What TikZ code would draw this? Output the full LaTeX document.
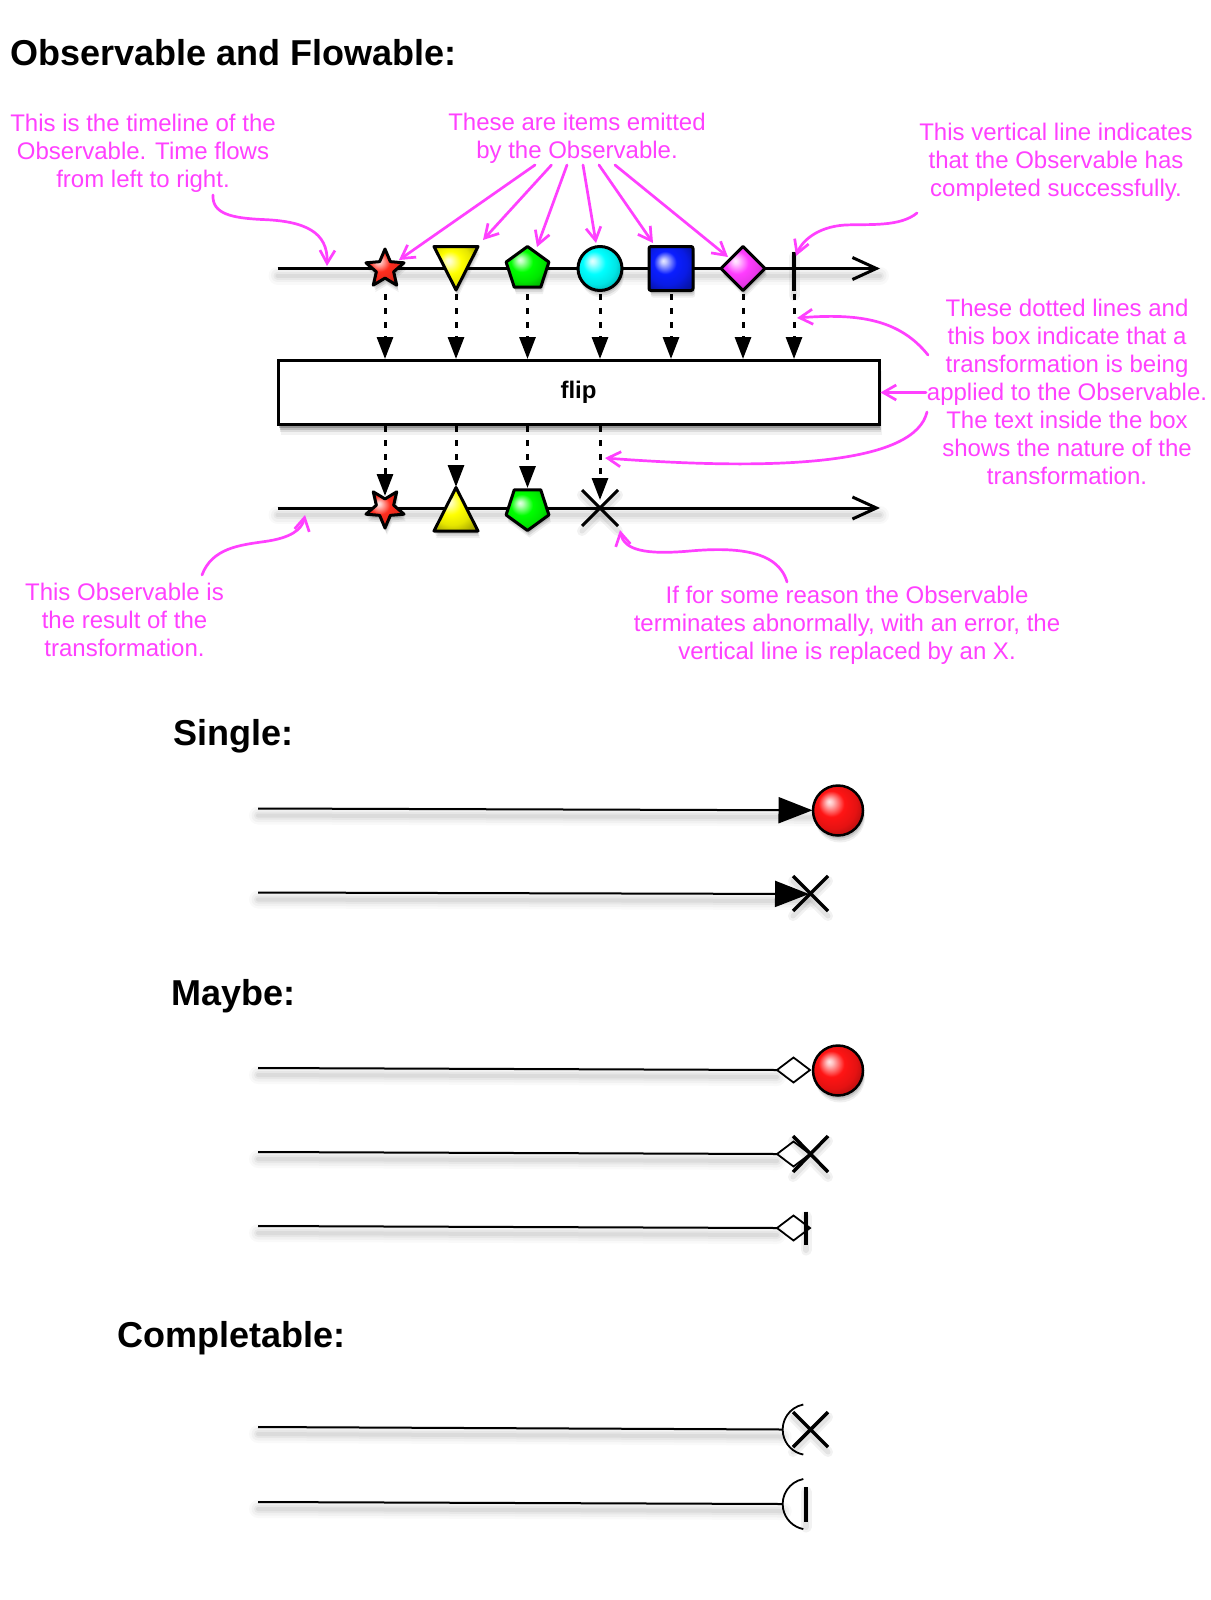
\documentclass[tikz,border=0pt]{standalone}
\usepackage{fontspec}
\setmainfont{Liberation Sans}
\usetikzlibrary{arrows.meta,shapes.geometric,shadows}
\definecolor{mag}{RGB}{255,64,255}
\definecolor{starred}{RGB}{255,45,30}
\definecolor{yel}{RGB}{255,255,0}
\definecolor{grn}{RGB}{0,255,0}
\definecolor{cyn}{RGB}{0,255,255}
\definecolor{blu}{RGB}{10,30,255}
\definecolor{pnk}{RGB}{255,60,255}
\definecolor{ballred}{RGB}{255,20,20}
\colorlet{shapecol}{red}
\pgfdeclareradialshading[shapecol]{glossy}{\pgfpoint{-9bp}{9bp}}{color(0bp)=(shapecol!10!white); color(3bp)=(shapecol!25!white); color(13bp)=(shapecol); color(23bp)=(shapecol!90!black); color(33bp)=(shapecol!65!black); color(50bp)=(shapecol!55!black)}
\begin{document}
\begin{tikzpicture}[x=1pt,y=-1pt,
 softshadow/.style={general shadow={shadow xshift=2pt,shadow yshift=-7pt,opacity=0.06,fill=black},general shadow={shadow xshift=1.5pt,shadow yshift=-5pt,opacity=0.09,fill=black},general shadow={shadow xshift=1pt,shadow yshift=-3pt,opacity=0.12,fill=black}},
 boxshadow/.style={general shadow={shadow xshift=3pt,shadow yshift=-10pt,opacity=0.05,fill=black},general shadow={shadow xshift=2pt,shadow yshift=-7pt,opacity=0.09,fill=black},general shadow={shadow xshift=1.5pt,shadow yshift=-5pt,opacity=0.14,fill=black},general shadow={shadow xshift=1pt,shadow yshift=-3pt,opacity=0.2,fill=black}},
 glossy/.style={/utils/exec={\colorlet{shapecol}{#1}},shade,shading=glossy,draw=black,line width=3pt,line join=round,softshadow},
 item/.style={inner sep=0pt,outer sep=0pt},
 lshadow/.style={
   preaction={draw=black,draw opacity=0.025,line width=18pt,line cap=round,-,transform canvas={yshift=-7pt}},
   preaction={draw=black,draw opacity=0.03,line width=13pt,line cap=round,-,transform canvas={yshift=-7pt}},
   preaction={draw=black,draw opacity=0.04,line width=8pt,line cap=round,-,transform canvas={yshift=-7pt}},
   preaction={draw=black,draw opacity=0.05,line width=4pt,line cap=round,-,transform canvas={yshift=-7pt}}},
 tline/.style={draw=black,line width=3pt,lshadow,-{Straight Barb[length=24pt,width=22pt]}},
 dotarrow/.style={draw=black,line width=3pt,dash pattern=on 6pt off 8pt,-{Triangle[length=22pt,width=16pt]}},
 ann/.style={draw=mag,line width=2.7pt,line cap=round,-{Straight Barb[length=13pt,width=15pt]}},
 note/.style={text=mag,font=\fontsize{24}{28}\selectfont,align=center,anchor=north,inner sep=0pt},
 title/.style={font=\fontsize{36}{42}\selectfont\bfseries,anchor=base west,inner sep=0pt},
 thinline/.style={draw=black,line width=2pt,lshadow},
 xmark/.style={draw=black,line width=3.5pt,preaction={draw=black,draw opacity=0.05,line width=10pt,line cap=round,transform canvas={yshift=-5pt}},preaction={draw=black,draw opacity=0.06,line width=5pt,line cap=round,transform canvas={yshift=-5pt}}},
 barmark/.style={draw=black,line width=4.5pt,preaction={draw=black,draw opacity=0.05,line width=11pt,line cap=round,transform canvas={yshift=-5pt}},preaction={draw=black,draw opacity=0.06,line width=6pt,line cap=round,transform canvas={yshift=-5pt}}},
 dmd/.style={item,diamond,draw=black,fill=white,line width=1.8pt,minimum width=33pt,minimum height=25pt},
 arcmark/.style={draw=black,line width=1.8pt},
]
\useasboundingbox (0,0) rectangle (1210,1600);
\fill[white] (0,0) rectangle (1210,1600);

% ---------- titles
\node[title] (h0) at (10,66) {Observable and Flowable:};
\node[title] (h1) at (173,745.5) {Single:};
\node[title] (h2) at (171,1005.5) {Maybe:};
\node[title] (h3) at (117,1347.5) {Completable:};

% ---------- notes
\node[note] (n1) at (143,114) {This is the timeline of the\\Observable. Time flows\\from left to right.};
\node[note] (n2) at (577,112.5) {These are items emitted\\by the Observable.};
\node[note] (n3) at (1056,122.5) {This vertical line indicates\\that the Observable has\\completed successfully.};
\node[note] (n4) at (1067,299) {These dotted lines and\\this box indicate that a\\transformation is being\\applied to the Observable.\\The text inside the box\\shows the nature of the\\transformation.};
\node[note] (n5) at (124.5,583) {This Observable is\\the result of the\\transformation.};
\node[note] (n6) at (847,586) {If for some reason the Observable\\terminates abnormally, with an error, the\\vertical line is replaced by an X.};

% ---------- top timeline
\coordinate (tl0) at (277.5,268.5);
\coordinate (tl1) at (880,268.5);
\draw[tline] (tl0) -- (tl1);
\node[item,glossy=starred,star,star points=5,star point ratio=2.2,minimum size=40pt] (a1) at (385,269) {};
\path[glossy=yel] (434,246.5) -- (478,246.5) -- (456,290) -- cycle;
\coordinate (a2) at (456,268.5);
\node[item,glossy=grn,regular polygon,regular polygon sides=5,minimum size=45pt] (a3) at (527.5,269) {};
\node[item,glossy=cyn,circle,minimum size=44pt] (a4) at (600,268.5) {};
\node[item,glossy=blu,rectangle,rounded corners=2pt,minimum size=44pt] (a5) at (671,268.5) {};
\node[item,glossy=pnk,diamond,minimum width=44pt,minimum height=44pt] (a6) at (743,268.5) {};
\coordinate (a7) at (794,268.5);
\draw[barmark,line width=3.5pt] (794,251.5) -- (794,290.5);

% ---------- box
\node[draw=black,line width=3pt,fill=white,minimum width=601pt,minimum height=64pt,inner sep=0pt,boxshadow,font=\fontsize{24}{28}\selectfont\bfseries] (box) at (578.5,392.5) {flip};

\foreach \n/\x in {1/385,2/456,3/527.5,4/600,5/671,6/743,7/794}{
  \coordinate (d\n) at (\x,294);
  \draw[dotarrow] (d\n) -- (d\n |- box.north);
}

% ---------- bottom timeline
\coordinate (bl0) at (277.5,508);
\coordinate (bl1) at (880,508);
\draw[tline] (bl0) -- (bl1);
\node[item,glossy=starred,star,star points=5,star point ratio=2.2,minimum size=40pt,shape border rotate=180] (b1) at (385,508) {};
\path[glossy=yel] (434,531) -- (478,531) -- (456,487.5) -- cycle;
\node[item,glossy=grn,regular polygon,regular polygon sides=5,minimum size=45pt,shape border rotate=180] (b3) at (527.5,508) {};
\coordinate (b4) at (600,508);
\draw[xmark,line width=3pt] (582,490) -- (618,526) (582,526) -- (618,490);

\coordinate (e1) at (385,496);
\coordinate (e2) at (456,487);
\coordinate (e3) at (527.5,488);
\coordinate (e4) at (600,500);
\foreach \n in {1,2,3,4}{
  \draw[dotarrow] (e\n |- box.south) -- (e\n);
}

% ---------- annotation arrows
\coordinate (p1) at (213,195);
\coordinate (q1) at (327,266);
\draw[ann] (p1) .. controls (212,214) and (232,218) .. (262,219.5) .. controls (305,221) and (328,232) .. (q1);

\coordinate (f1) at (535,165);   \coordinate (g1) at (399,260);
\coordinate (f2) at (551.5,165); \coordinate (g2) at (483,240);
\coordinate (f3) at (567,165);   \coordinate (g3) at (537,247);
\coordinate (f4) at (583,165);   \coordinate (g4) at (596,243);
\coordinate (f5) at (599,165);   \coordinate (g5) at (653,243);
\coordinate (f6) at (615,165);   \coordinate (g6) at (728,257);
\foreach \n in {1,...,6}{ \draw[ann] (f\n) -- (g\n); }

\coordinate (p3) at (917,213);
\coordinate (q3) at (796,256);
\draw[ann] (p3) .. controls (900,227) and (870,224) .. (845,225) .. controls (815,227) and (801,243) .. (q3);

\coordinate (p4a) at (928,355);
\coordinate (q4a) at (797,318);
\draw[ann] (p4a) .. controls (900,320) and (860,313) .. (q4a);
\coordinate (p4b) at (926,392.5);
\draw[ann] (p4b) -- (box.east);
\coordinate (p4c) at (927,412);
\coordinate (q4c) at (605,458);
\draw[ann] (p4c) .. controls (915,462) and (790,472) .. (q4c);

\coordinate (p5) at (202,575);
\coordinate (q5) at (305,515);
\draw[ann] (p5) .. controls (212,548) and (240,545) .. (265,541.5) .. controls (290,538) and (302,530) .. (q5);

\coordinate (p6) at (787,582);
\coordinate (q6) at (620,530);
\draw[ann] (p6) .. controls (778,550) and (735,547) .. (690,551) .. controls (645,555) and (624,550) .. (q6);

% ---------- Single
\coordinate (s1a) at (258,808.5);
\coordinate (s1b) at (812.5,810.3);
\draw[thinline,-{Triangle[length=34pt,width=26pt]}] (s1a) -- (s1b);
\node[item,glossy=ballred,circle,minimum size=50pt,line width=2.5pt] (s1c) at (838,810.5) {};

\coordinate (s2a) at (258,892.5);
\coordinate (s2b) at (809,894);
\draw[thinline,-{Triangle[length=34pt,width=26pt]}] (s2a) -- (s2b);
\coordinate (s2c) at (810.5,893.5);
\draw[xmark] (793,876) -- (828,911) (793,911) -- (828,876);

% ---------- Maybe
\coordinate (m1a) at (258,1068);
\node[dmd] (m1d) at (793.5,1070) {};
\draw[thinline] (m1a) -- (m1d.west);
\node[item,glossy=ballred,circle,minimum size=50pt,line width=2.5pt] (m1c) at (838,1070.5) {};

\coordinate (m2a) at (258,1152);
\node[dmd] (m2d) at (793.5,1154) {};
\draw[thinline] (m2a) -- (m2d.west);
\draw[xmark] (793,1136) -- (828,1172) (793,1172) -- (828,1136);

\coordinate (m3a) at (258,1226);
\node[dmd] (m3d) at (793.5,1228) {};
\draw[thinline] (m3a) -- (m3d.west);
\draw[barmark] (806,1211.5) -- (806,1245);

% ---------- Completable
\coordinate (c1a) at (258,1427);
\coordinate (c1b) at (782.7,1429.5);
\draw[thinline] (c1a) -- (c1b);
\draw[arcmark] (803.3,1404.5) arc[start angle=-101,end angle=-259,radius=25.5];
\draw[xmark] (793,1412) -- (828,1447) (793,1447) -- (828,1412);

\coordinate (c2a) at (258,1502);
\coordinate (c2b) at (782.7,1504);
\draw[thinline] (c2a) -- (c2b);
\draw[arcmark] (803.3,1479) arc[start angle=-101,end angle=-259,radius=25.5];
\draw[barmark] (806,1487) -- (806,1522);
\end{tikzpicture}
\end{document}
